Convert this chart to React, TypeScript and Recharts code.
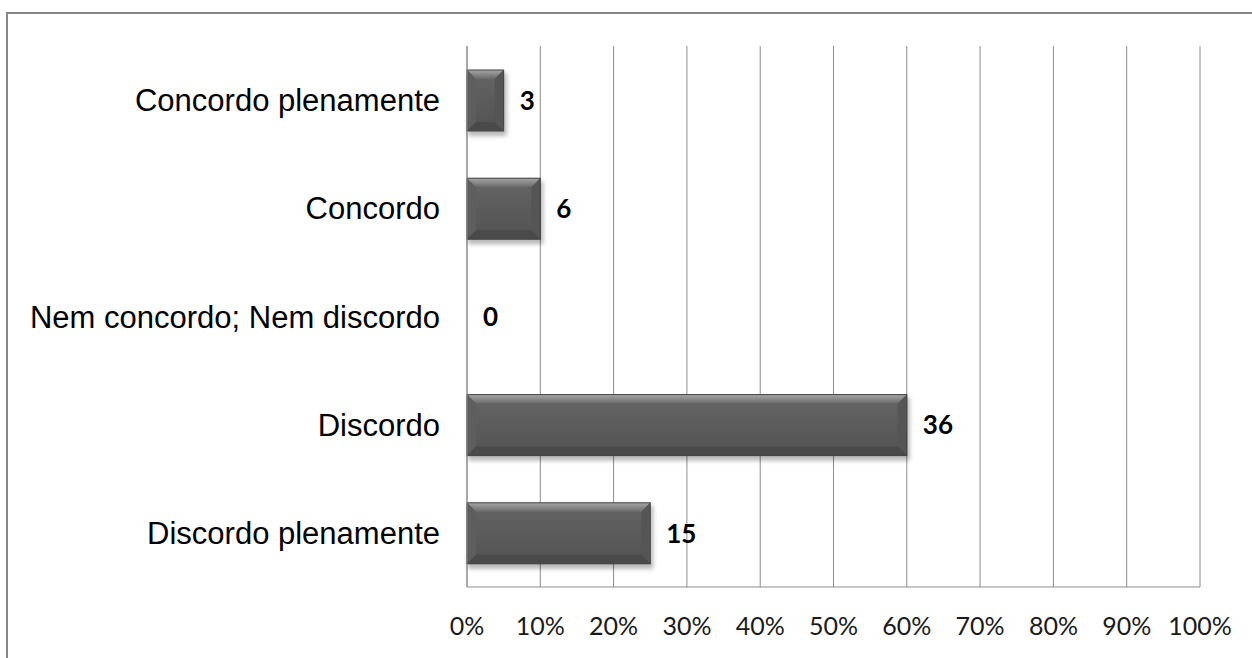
import React from 'react';
import { BarChart, Bar, XAxis, YAxis, CartesianGrid, LabelList } from 'recharts';

// Survey answers (top to bottom) and the number of respondents for each
const categories = [
  'Concordo plenamente',
  'Concordo',
  'Nem concordo; Nem discordo',
  'Discordo',
  'Discordo plenamente',
];
const counts = [3, 6, 0, 36, 15];
const percentTicks = [0, 10, 20, 30, 40, 50, 60, 70, 80, 90, 100];

const total = counts.reduce((a, b) => a + b, 0);
const data = categories.map((name, i) => ({
  name,
  count: counts[i],
  pct: (counts[i] / total) * 100,
}));

const GRID = '#8c8c8c';

// Bevelled dark-grey bar with a soft drop shadow
const BevelBar = (props: any) => {
  const { x, y, width, height, index } = props;
  if (!width || width <= 0) return <g />;
  const b = Math.min(9, width / 2, height / 2);
  const id = `bar${index}`;
  return (
    <g>
      <defs>
        <linearGradient id={`${id}-body`} x1="0" y1="0" x2="0" y2="1">
          <stop offset="0%" stopColor="#656565" />
          <stop offset="100%" stopColor="#525252" />
        </linearGradient>
        <linearGradient id={`${id}-top`} x1="0" y1="0" x2="0" y2="1">
          <stop offset="0%" stopColor="#a6a6a6" />
          <stop offset="100%" stopColor="#6a6a6a" />
        </linearGradient>
        <filter id={`${id}-sh`} x="-10%" y="-20%" width="120%" height="150%">
          <feGaussianBlur stdDeviation="2" />
        </filter>
      </defs>
      <rect
        x={x + 1}
        y={y + 3}
        width={width + 2}
        height={height + 2}
        fill="rgba(0,0,0,0.28)"
        filter={`url(#${id}-sh)`}
      />
      <rect x={x} y={y} width={width} height={height} fill={`url(#${id}-body)`} />
      <polygon
        points={`${x},${y} ${x + width},${y} ${x + width - b},${y + b} ${x + b},${y + b}`}
        fill={`url(#${id}-top)`}
      />
      <polygon
        points={`${x},${y} ${x + b},${y + b} ${x + b},${y + height - b} ${x},${y + height}`}
        fill="#5e5e5e"
      />
      <polygon
        points={`${x + width},${y} ${x + width - b},${y + b} ${x + width - b},${y + height - b} ${x + width},${y + height}`}
        fill="#555555"
      />
      <polygon
        points={`${x},${y + height} ${x + b},${y + height - b} ${x + width - b},${y + height - b} ${x + width},${y + height}`}
        fill="#4a4a4a"
      />
      <rect x={x} y={y} width={width} height={height} fill="none" stroke="#444444" strokeWidth={1} />
    </g>
  );
};

export default function App() {
  return (
    <div
      style={{
        position: 'absolute',
        left: 0,
        top: 0,
        width: 1252,
        height: 658,
        overflow: 'hidden',
        background: '#ffffff',
      }}
    >
      <div
        style={{
          position: 'absolute',
          left: 6,
          top: 12,
          width: 1300,
          height: 700,
          border: '2px solid #868686',
        }}
      />
      <div style={{ position: 'absolute', left: 0, top: 0 }}>
        <BarChart
          width={1252}
          height={658}
          data={data}
          layout="vertical"
          margin={{ top: 46, right: 52, bottom: 0, left: 0 }}
          barSize={61}
        >
          <CartesianGrid horizontal={false} vertical stroke={GRID} strokeWidth={1} />
          <XAxis
            type="number"
            domain={[0, 100]}
            ticks={percentTicks}
            tickFormatter={(v: number) => `${v}%`}
            height={71}
            axisLine={{ stroke: GRID }}
            tickLine={false}
            tickSize={0}
            tickMargin={30}
            tick={{ fontFamily: 'Lato, sans-serif', fontSize: 25, fill: '#1a1a1a' }}
          />
          <YAxis
            type="category"
            dataKey="name"
            width={467}
            axisLine={{ stroke: GRID }}
            tickLine={false}
            tickSize={0}
            tickMargin={27}
            tick={{ fontFamily: '"Liberation Sans", Arial, sans-serif', fontSize: 31, fill: '#000000' }}
          />
          <Bar dataKey="pct" isAnimationActive={false} shape={<BevelBar />}>
            <LabelList
              dataKey="count"
              position="right"
              offset={16}
              style={{ fontFamily: 'Lato, sans-serif', fontWeight: 700, fontSize: 26, fill: '#000000' }}
            />
          </Bar>
        </BarChart>
      </div>
    </div>
  );
}
